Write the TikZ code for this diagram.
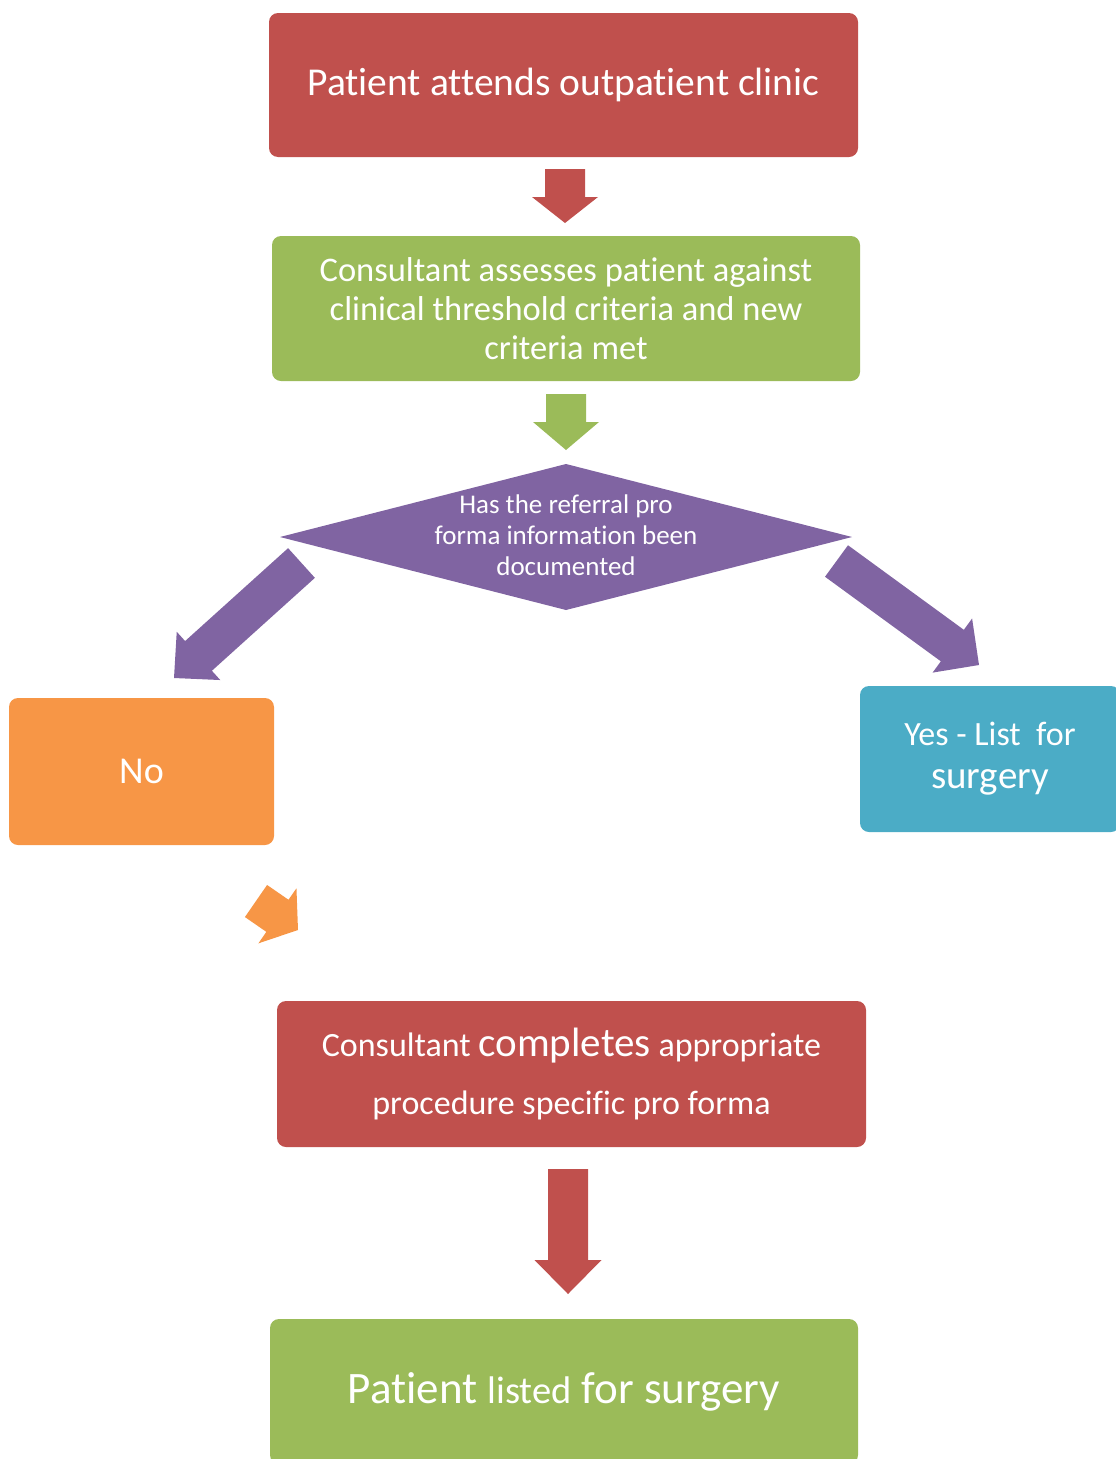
\documentclass[tikz,border=0pt]{standalone}
\usepackage{fontspec}
\setmainfont{Carlito}[Ligatures=NoCommon]
\usetikzlibrary{calc}
\definecolor{cred}{HTML}{C0504D}
\definecolor{cgreen}{HTML}{9BBB59}
\definecolor{cpurple}{HTML}{8064A2}
\definecolor{corange}{HTML}{F79646}
\definecolor{cblue}{HTML}{4BACC6}
\newcommand\fs[2]{\fontsize{#1}{#2}\selectfont}
% block arrow: tail, tip, shaft width, head width, head length, colour
\newcommand\blockarrow[6]{%
  \coordinate (nk) at ($(#2)!#5!(#1)$);
  \fill[#6] ($(#1)!#3/2!90:(#2)$) -- ($(nk)!#3/2!90:(#2)$) -- ($(nk)!#4/2!90:(#2)$)
    -- (#2) -- ($(nk)!#4/2!-90:(#2)$) -- ($(nk)!#3/2!-90:(#2)$) -- ($(#1)!#3/2!-90:(#2)$) -- cycle;}
\tikzset{
  box/.style={rounded corners=9pt, inner sep=0pt, text=white, align=center},
}
\begin{document}
\begin{tikzpicture}[x=1pt,y=-1pt]
\useasboundingbox (0,0) rectangle (1116,1459);
% boxes
\node (b1) [box, fill=cred, minimum width=589pt, minimum height=144pt, font=\fs{39.5}{44}] at (563.5,85)
  {Patient attends outpatient clinic};
\node (b2) [box, fill=cgreen, minimum width=588pt, minimum height=145pt, font=\fs{34.5}{39}] at (566,308.5)
  {Consultant assesses patient against\\clinical threshold criteria and new\\criteria met};
\coordinate (dt) at (566,464);
\coordinate (dr) at (852,537);
\coordinate (db) at (566,610);
\coordinate (dl) at (280,537);
\fill[cpurple] (dt) -- (dr) -- (db) -- (dl) -- cycle;
\node (dia) [text=white, align=center, inner sep=0pt, font=\fs{27}{31}] at (566,535)
  {Has the referral pro\\forma information been\\documented};
\node (no) [box, fill=corange, minimum width=265pt, minimum height=147pt, font=\fs{38}{40}] at (141.5,771.5)
  {No};
\node (yes) [box, fill=cblue, minimum width=260pt, minimum height=146pt, font=\fs{34}{43}] at (990,759)
  {Yes - List\ \ for\\{\fs{39}{43}surgery}};
\node (b6) [box, fill=cred, minimum width=589pt, minimum height=146pt, font=\fs{34}{58}] at (571.5,1074)
  {Consultant {\fs{41}{58}completes} appropriate\\procedure specific pro forma};
\node (b7) [box, fill=cgreen, minimum width=588pt, minimum height=145pt, font=\fs{45}{50}] at (564,1391.5)
  {Patient {\fs{38.5}{50}listed} for surgery};
% arrows
\coordinate (a1t) at (565,169); \coordinate (a1h) at (565,223);
\blockarrow{a1t}{a1h}{40pt}{66pt}{26pt}{cred}
\coordinate (a2t) at (566,394); \coordinate (a2h) at (566,450);
\blockarrow{a2t}{a2h}{40pt}{66pt}{28pt}{cgreen}
\coordinate (a3t) at (301.5,563); \coordinate (a3h) at (174,678);
\blockarrow{a3t}{a3h}{40pt}{65pt}{33pt}{cpurple}
\coordinate (a4t) at (836.5,561); \coordinate (a4h) at (979,665);
\blockarrow{a4t}{a4h}{39pt}{67pt}{33pt}{cpurple}
\coordinate (a5t) at (256,901); \coordinate (a5h) at (298,930);
\blockarrow{a5t}{a5h}{39pt}{67pt}{25pt}{corange}
\coordinate (a6t) at (568,1169); \coordinate (a6h) at (568,1294);
\blockarrow{a6t}{a6h}{40pt}{67pt}{34pt}{cred}
\end{tikzpicture}
\end{document}
